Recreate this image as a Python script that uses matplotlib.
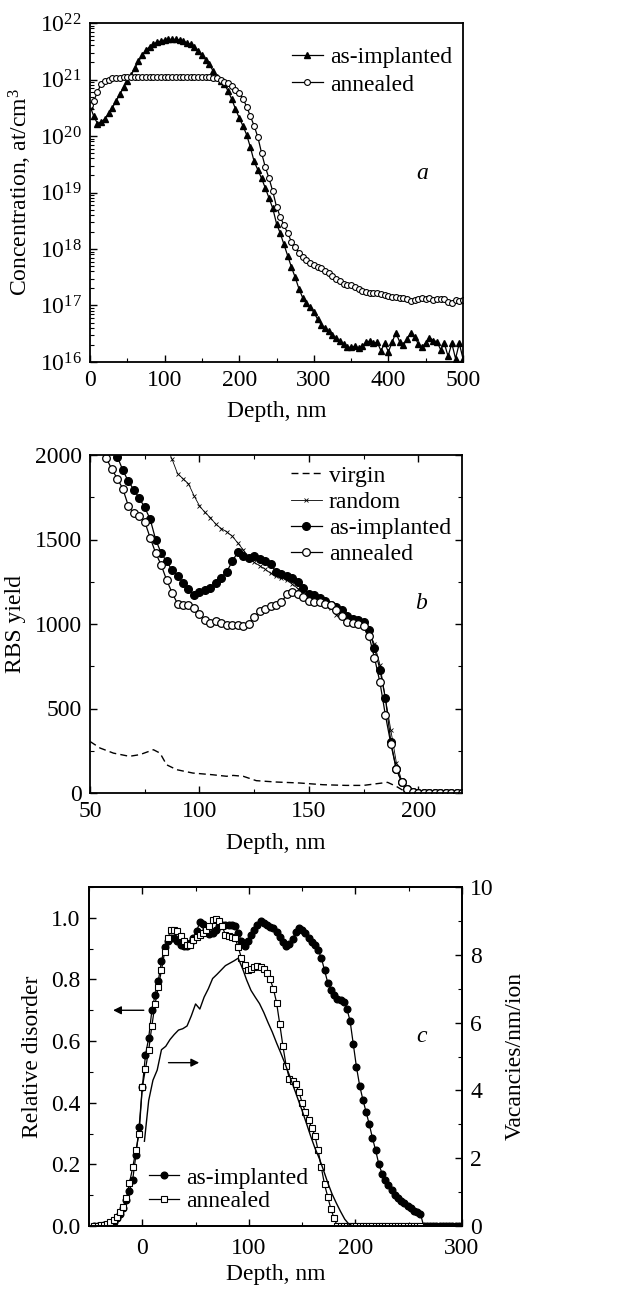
import numpy as np
import matplotlib
matplotlib.use("Agg")
import matplotlib.pyplot as plt
from matplotlib.ticker import MultipleLocator, LogLocator, NullFormatter, FormatStrFormatter

plt.rcParams['font.family'] = ['Liberation Serif', 'DejaVu Serif']
plt.rcParams['mathtext.fontset'] = 'custom'
plt.rcParams['mathtext.rm'] = 'Liberation Serif'
plt.rcParams['mathtext.it'] = 'Liberation Serif:italic'
plt.rcParams['font.size'] = 17
plt.rcParams['axes.linewidth'] = 1.3

# ---- panel a: concentration profiles (log10 of at/cm3), 5 nm step ----
depth_a = np.arange(0, 501, 5)
implanted_a_log = [
    20.53, 20.35, 20.22, 20.25, 20.30, 20.40, 20.50, 20.62, 20.74, 20.86,
    20.98, 21.08, 21.20, 21.32, 21.43, 21.52, 21.58, 21.63, 21.66, 21.68,
    21.70, 21.71, 21.71, 21.71, 21.70, 21.68, 21.65, 21.62, 21.57, 21.51,
    21.44, 21.35, 21.27, 21.15, 21.05, 20.98, 20.92, 20.80, 20.65, 20.48,
    20.32, 20.18, 20.02, 19.80, 19.55, 19.40, 19.25, 19.08, 18.90, 18.72,
    18.45, 18.28, 18.08, 17.88, 17.68, 17.50, 17.30, 17.14, 17.05, 16.97,
    16.88, 16.76, 16.66, 16.60, 16.55, 16.48, 16.42, 16.37, 16.32, 16.26,
    16.26, 16.28, 16.25, 16.28, 16.35, 16.37, 16.33, 16.35, 16.20, 16.33,
    16.18, 16.35, 16.52, 16.36, 16.30, 16.40, 16.52, 16.45, 16.32, 16.26,
    16.34, 16.43, 16.38, 16.36, 16.22, 16.33, 16.10, 16.33, 16.06, 16.33,
    16.06]
annealed_a_log = [
    20.55, 20.62, 20.78, 20.92, 20.97, 21.00, 21.02, 21.03, 21.03, 21.04,
    21.04, 21.04, 21.04, 21.04, 21.04, 21.04, 21.04, 21.04, 21.04, 21.04,
    21.04, 21.04, 21.04, 21.04, 21.04, 21.04, 21.04, 21.04, 21.04, 21.04,
    21.04, 21.04, 21.04, 21.03, 21.02, 20.99, 20.96, 20.93, 20.88, 20.82,
    20.76, 20.66, 20.52, 20.35, 20.18, 19.98, 19.70, 19.45, 19.25, 19.02,
    18.75, 18.57, 18.42, 18.28, 18.13, 18.04, 17.93, 17.85, 17.80, 17.76,
    17.72, 17.69, 17.66, 17.61, 17.57, 17.52, 17.47, 17.43, 17.38, 17.36,
    17.36, 17.33, 17.30, 17.26, 17.24, 17.23, 17.23, 17.22, 17.20, 17.18,
    17.16, 17.15, 17.15, 17.14, 17.13, 17.12, 17.08, 17.09, 17.12, 17.13,
    17.11, 17.13, 17.09, 17.12, 17.12, 17.11, 17.06, 17.05, 17.10, 17.08,
    17.10]

# ---- panel b: RBS spectra, 2.5 nm step from 50 to 220 nm ----
depth_b = np.arange(50, 220.1, 2.5)
implanted_b = [
    2450, 2350, 2250, 2150, 2070, 1990, 1910, 1845, 1795, 1745,
    1690, 1620, 1500, 1420, 1370, 1320, 1285, 1245, 1205, 1170,
    1190, 1200, 1215, 1240, 1275, 1310, 1370, 1425, 1400, 1390,
    1400, 1385, 1375, 1355, 1310, 1295, 1285, 1270, 1250, 1215,
    1180, 1172, 1155, 1135, 1110, 1100, 1085, 1050, 1030, 1025,
    1010, 965, 860, 730, 560, 300, 140, 65, 25, 5,
    0, 0, 0, 0, 0, 0, 0, 0, 0]
annealed_b = [
    2300, 2200, 2100, 1980, 1915, 1860, 1800, 1700, 1655, 1640,
    1606, 1510, 1420, 1350, 1261, 1185, 1120, 1113, 1110, 1095,
    1060, 1025, 1005, 1015, 1005, 995, 995, 995, 990, 1000,
    1040, 1074, 1090, 1105, 1113, 1130, 1175, 1192, 1180, 1160,
    1135, 1130, 1128, 1120, 1110, 1085, 1045, 1010, 1005, 1000,
    990, 930, 800, 655, 460, 290, 140, 65, 25, 8,
    0, 0, 0, 0, 0, 0, 0, 0, 0]
random_b = [
    np.nan, np.nan, np.nan, np.nan, np.nan, np.nan, np.nan, np.nan, np.nan, np.nan,
    np.nan, np.nan, 2200, 2120, 2050, 1975, 1890, 1860, 1830, 1760,
    1700, 1660, 1630, 1590, 1565, 1545, 1520, 1480, 1440, 1385,
    1365, 1345, 1325, 1300, 1285, 1275, 1260, 1235, 1210, 1195,
    1180, 1160, 1145, 1125, 1095, 1055, 1040, 1035, 1028, 1020,
    1000, 955, 880, 760, 560, 370, 180, 70, 15, 0,
    0, np.nan, np.nan, np.nan, np.nan, np.nan, np.nan, np.nan, np.nan]
virgin_x = [50, 54.6, 60.7, 68, 72.8, 79, 82, 85, 89.6, 97, 106, 112.4, 115.4,
            120, 126, 135, 146, 156.5, 167, 175, 181, 186, 190, 193, 195]
virgin_y = [305, 266, 236, 217, 227, 256, 236, 167, 138, 118, 108, 99, 104,
            99, 73, 65, 59, 49, 45, 45, 55, 63, 39, 16, 0]

# ---- panel c: relative disorder, 3 nm step from -45 nm ----
depth_c = np.arange(-45, 301, 3)
implanted_c = [
    0.0, 0.0, 0.0, 0.002, 0.004, 0.008, 0.014, 0.025, 0.038, 0.058,
    0.085, 0.115, 0.150, 0.23, 0.32, 0.45, 0.555, 0.61, 0.70, 0.75,
    0.795, 0.86, 0.905, 0.925, 0.935, 0.933, 0.925, 0.913, 0.908, 0.908,
    0.918, 0.935, 0.958, 0.985, 0.98, 0.965, 0.948, 0.95, 0.962, 0.975,
    0.978, 0.978, 0.978, 0.977, 0.974, 0.950, 0.925, 0.908, 0.925, 0.945,
    0.962, 0.978, 0.989, 0.983, 0.976, 0.970, 0.966, 0.955, 0.938, 0.920,
    0.908, 0.915, 0.930, 0.955, 0.968, 0.962, 0.950, 0.935, 0.922, 0.912,
    0.895, 0.870, 0.830, 0.790, 0.765, 0.748, 0.737, 0.732, 0.726, 0.705,
    0.665, 0.590, 0.515, 0.455, 0.410, 0.370, 0.330, 0.285, 0.245, 0.200,
    0.170, 0.150, 0.132, 0.117, 0.102, 0.090, 0.082, 0.075, 0.066, 0.058,
    0.050, 0.045, 0.040, 0.0, 0.0, 0.0, 0.0, 0.0, 0.0, 0.0,
    0.0, 0.0, 0.0, 0.0, 0.0, 0.0]
annealed_c = [
    0.0, 0.0, 0.002, 0.004, 0.008, 0.012, 0.02, 0.03, 0.045, 0.062,
    0.09, 0.14, 0.19, 0.245, 0.30, 0.45, 0.51, 0.57, 0.65, 0.72,
    0.775, 0.83, 0.89, 0.935, 0.962, 0.962, 0.957, 0.942, 0.925, 0.912,
    0.912, 0.928, 0.938, 0.945, 0.952, 0.962, 0.975, 0.993, 0.996, 0.99,
    0.972, 0.945, 0.940, 0.938, 0.934, 0.905, 0.870, 0.848, 0.832, 0.835,
    0.842, 0.843, 0.840, 0.835, 0.820, 0.800, 0.770, 0.725, 0.655, 0.583,
    0.520, 0.478, 0.470, 0.460, 0.435, 0.400, 0.370, 0.345, 0.318, 0.293,
    0.245, 0.190, 0.135, 0.095, 0.055, 0.025, 0.0, 0.0, 0.0, 0.0,
    0.0, 0.0, 0.0, 0.0, 0.0, 0.0, 0.0, 0.0, 0.0, 0.0,
    0.0, 0.0, 0.0, 0.0, 0.0, 0.0, 0.0, 0.0, 0.0, 0.0,
    0.0, 0.0, 0.0]
# simulated vacancies (right axis), 4 nm step
vac_x = np.arange(2, 199, 4)
vac_y = [2.5, 3.7, 4.3, 4.6, 5.2, 5.3, 5.5, 5.65, 5.78, 5.82,
         5.9, 6.2, 6.55, 6.4, 6.75, 7.0, 7.3, 7.42, 7.55, 7.68,
         7.75, 7.82, 7.9, 7.6, 7.25, 6.95, 6.75, 6.56, 6.3, 6.0,
         5.72, 5.4, 5.1, 4.78, 4.45, 4.1, 3.75, 3.4, 3.03, 2.65,
         2.3, 2.0, 1.65, 1.28, 0.95, 0.68, 0.43, 0.2, 0.05, 0.0]

W, H = 638, 1291
fig = plt.figure(figsize=(W / 100, H / 100), dpi=100)

def tick_style(ax, **kw):
    ax.tick_params(which='major', direction='in', length=5, width=1.0, pad=6, **kw)
    ax.tick_params(which='minor', direction='in', length=3, width=0.8, **kw)

leg_kw = dict(frameon=False, handlelength=1.3, handletextpad=0.3,
              borderaxespad=0.0, borderpad=0.0)

# ---------- panel a ----------
ax1 = fig.add_axes([90 / W, 1 - 362 / H, 373 / W, 339 / H])
ax1.semilogy(depth_a, 10 ** np.array(implanted_a_log), '-', color='black', lw=0.9,
             marker='^', ms=4.5, mfc='black', mec='black', label='as-implanted')
ax1.semilogy(depth_a, 10 ** np.array(annealed_a_log), '-', color='black', lw=0.9,
             marker='o', ms=4.2, mfc='white', mec='black', mew=0.8, label='annealed')
ax1.set_xlim(0, 500)
ax1.set_ylim(1e16, 1e22)
ax1.xaxis.set_major_locator(MultipleLocator(100))
ax1.xaxis.set_minor_locator(MultipleLocator(50))
ax1.yaxis.set_major_locator(LogLocator(base=10, numticks=10))
ax1.yaxis.set_minor_locator(LogLocator(base=10, subs=np.arange(2, 10), numticks=10))
ax1.yaxis.set_minor_formatter(NullFormatter())
tick_style(ax1, top=False, right=False)
ax1.set_xlabel('Depth, nm', labelpad=7)
ax1.set_ylabel('Concentration, at/cm$^3$', labelpad=4)
ax1.legend(loc='upper right', bbox_to_anchor=(0.97, 0.93), labelspacing=0.25, **leg_kw)
ax1.text(445, 10 ** 19.34, 'a', style='italic', ha='center', va='center')

# ---------- panel b ----------
ax2 = fig.add_axes([90 / W, 1 - 793 / H, 372 / W, 338 / H])
ax2.plot(virgin_x, virgin_y, color='black', lw=1.0, ls=(0, (5, 3)), label='virgin')
ax2.plot(depth_b, random_b, '-', color='black', lw=0.6, marker='x', ms=3, mew=0.6,
         label='random')
ax2.plot(depth_b, implanted_b, '-', color='black', lw=0.9, marker='o', ms=5.5,
         mfc='black', mec='black', label='as-implanted')
ax2.plot(depth_b, annealed_b, '-', color='black', lw=0.9, marker='o', ms=5.5,
         mfc='white', mec='black', mew=0.9, label='annealed')
ax2.set_xlim(50, 220)
ax2.set_ylim(0, 2000)
ax2.xaxis.set_major_locator(MultipleLocator(50))
ax2.xaxis.set_minor_locator(MultipleLocator(25))
ax2.yaxis.set_major_locator(MultipleLocator(500))
ax2.yaxis.set_minor_locator(MultipleLocator(250))
tick_style(ax2, top=True, right=True)
ax2.set_xlabel('Depth, nm', labelpad=8)
ax2.set_ylabel('RBS yield', labelpad=6)
ax2.legend(loc='upper right', bbox_to_anchor=(0.97, 0.97), labelspacing=0.2, **leg_kw)
ax2.text(201.4, 1123, 'b', style='italic', ha='center', va='center')

# ---------- panel c ----------
ax3 = fig.add_axes([89 / W, 1 - 1226 / H, 373 / W, 339 / H])
ax3.plot(depth_c, implanted_c, '-', color='black', lw=0.9, marker='o', ms=4.8,
         mfc='black', mec='black', label='as-implanted')
ax3.plot(depth_c[:len(annealed_c)], annealed_c, '-', color='black', lw=0.9, marker='s',
         ms=4.2, mfc='white', mec='black', mew=0.8, label='annealed')
ax3.set_xlim(-50, 300)
ax3.set_ylim(0, 1.1)
ax3.xaxis.set_major_locator(MultipleLocator(100))
ax3.xaxis.set_minor_locator(MultipleLocator(50))
ax3.yaxis.set_major_locator(MultipleLocator(0.2))
ax3.yaxis.set_minor_locator(MultipleLocator(0.1))
ax3.yaxis.set_major_formatter(FormatStrFormatter('%.1f'))
tick_style(ax3, top=True, right=False)
ax3.tick_params(axis='x', which='major', pad=9)
ax3.set_xlabel('Depth, nm', labelpad=3)
ax3.set_ylabel('Relative disorder', labelpad=6)
ax3.text(262, 0.615, 'c', style='italic', ha='center', va='center')
ax3.annotate('', xy=(-30, 0.70), xytext=(4, 0.70),
             arrowprops=dict(arrowstyle='-|>', color='black', lw=1.0, mutation_scale=12))
ax3.annotate('', xy=(56, 0.53), xytext=(22, 0.53),
             arrowprops=dict(arrowstyle='-|>', color='black', lw=1.0, mutation_scale=12))

ax3r = ax3.twinx()
ax3r.plot(vac_x, vac_y, '-', color='black', lw=1.0)
ax3r.set_ylim(0, 10)
ax3r.yaxis.set_major_locator(MultipleLocator(2))
ax3r.yaxis.set_minor_locator(MultipleLocator(1))
ax3r.tick_params(which='major', direction='in', length=5, width=1.0, pad=6)
ax3r.tick_params(which='minor', direction='in', length=3, width=0.8)
ax3r.set_ylabel('Vacancies/nm/ion', labelpad=8)
h, l = ax3.get_legend_handles_labels()
ax3r.legend(h, l, loc='lower left', bbox_to_anchor=(0.16, 0.04), labelspacing=0.1, **leg_kw)

fig.savefig('out.png', dpi=100)
